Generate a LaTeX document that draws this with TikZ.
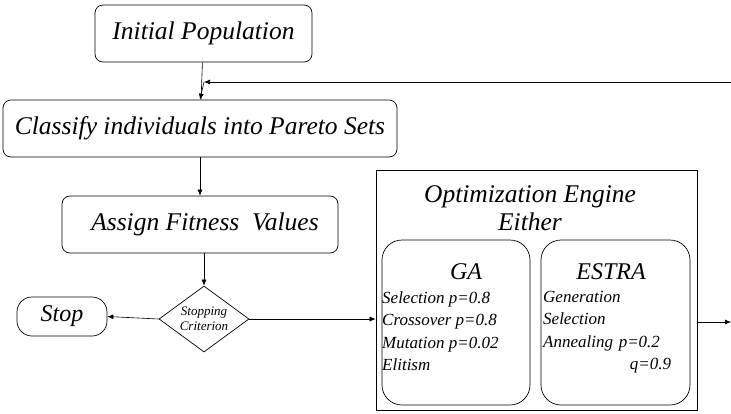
\documentclass[tikz,border=0pt]{standalone}
\usepackage{fontspec}
\newfontfamily\tms{Liberation Serif}
\usetikzlibrary{shapes.geometric,arrows.meta}
\newcommand\bigfont{\fontsize{25.5}{29}\tms\itshape}
\newcommand\midfont{\fontsize{24}{27}\tms\itshape}
\newcommand\smallfont{\fontsize{17}{22.5}\tms\itshape}
\newcommand\tinyfont{\fontsize{13}{15}\tms\itshape}
\begin{document}
\begin{tikzpicture}[x=1pt,y=-1pt,
  proc/.style={draw,rounded corners=8pt,line width=0.7pt,inner sep=0pt},
  flow/.style={-{Latex[length=6pt,width=5pt]},line width=0.6pt}]
\useasboundingbox (0,0) rectangle (731,413);

% main flow boxes
\node[proc,minimum width=217pt,minimum height=57pt,font=\bigfont] (init) at (203.5,33.5) {Initial Population};
\node[proc,minimum width=394pt,minimum height=57pt,font=\bigfont] (classify) at (200,128.5) {Classify individuals into Pareto Sets};
\node[proc,minimum width=276pt,minimum height=57pt,font=\bigfont] (assign) at (200,224.5) {\hspace{10pt}Assign Fitness\ \ Values};
\node[draw,diamond,aspect=1.36,line width=0.7pt,minimum width=90pt,minimum height=66pt,inner sep=0pt,align=center,font=\tinyfont] (crit) at (204,319) {Stopping\\Criterion};
\node[proc,rounded corners=15pt,minimum width=90pt,minimum height=39pt,font=\midfont] (stop) at (62,316.5) {Stop};

% optimization engine
\node[draw,line width=0.7pt,minimum width=321pt,minimum height=240pt,inner sep=0pt] (engine) at (536.5,290) {};
\node[align=center,font=\bigfont] (etitle) at (530,208) {Optimization Engine\\[-1pt]Either};
\node[proc,rounded corners=20pt,minimum width=148pt,minimum height=165pt] (ga) at (456,322.5) {};
\node[proc,rounded corners=20pt,minimum width=149pt,minimum height=165pt] (es) at (615.5,322.5) {};
\node[font=\midfont] (gat) at (466,272) {GA};
\node[font=\midfont] (est) at (611,272) {ESTRA};
\node[anchor=north west,align=left,inner sep=0pt,font=\smallfont] (gal) at (382,291)
  {Selection p=0.8\\Crossover p=0.8\\Mutation p=0.02\\Elitism};
\node[anchor=north west,align=left,inner sep=0pt,text width=128pt,font=\smallfont] (esl) at (543,291)
  {Generation\\Selection\\Annealing p=0.2\\\hfill q=0.9};

% connectors
\coordinate (fb) at (731,82);
\coordinate (fbend) at (204,82);
\coordinate (out) at (731,322);
\draw[line width=0.6pt] (init) -- (classify);
\draw[flow] (fbend) -- (classify.north);
\draw[flow] (fb) -- (fbend);
\draw[flow] (classify) -- (assign);
\draw[flow] (assign.south -| crit.north) -- (crit.north);
\draw[flow] (crit.west) -- (stop.east);
\draw[flow] (crit.east) -- (crit.east -| engine.west);
\draw[flow] (engine.east |- out) -- (out);
\end{tikzpicture}
\end{document}
